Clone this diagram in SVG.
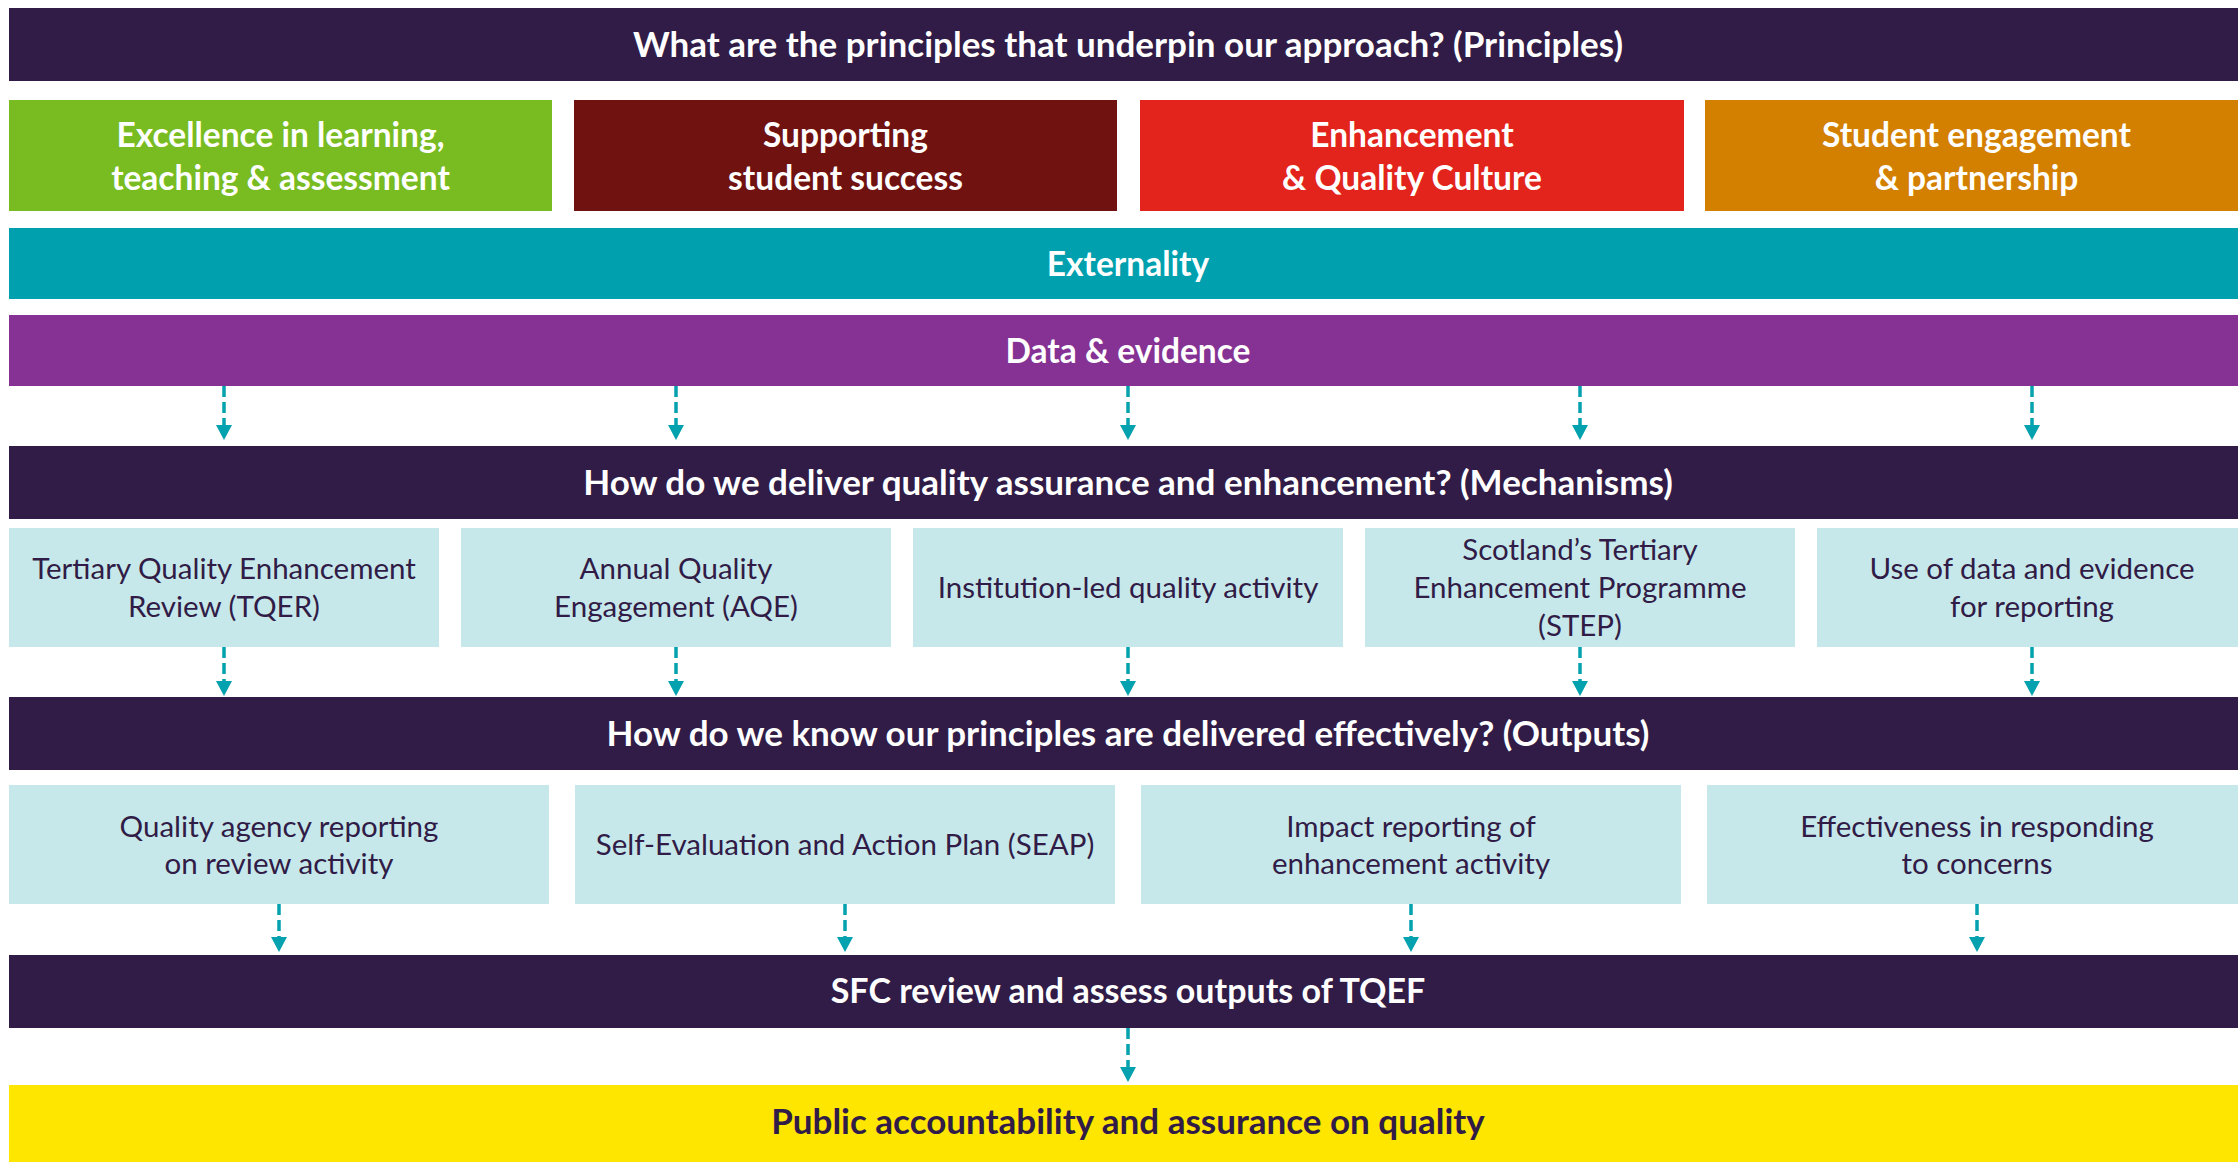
<svg xmlns="http://www.w3.org/2000/svg" width="2238" height="1162" viewBox="0 0 2238 1162">
<style>
.bar{fill:#301C46}
.lb{fill:#C7E8EB}
.hd{font-family:Lato,"Open Sans",sans-serif;font-weight:700;font-size:35px;fill:#FFFFFF;text-anchor:middle}
.pt{font-family:Lato,"Open Sans",sans-serif;font-weight:700;font-size:33.5px;fill:#FFFFFF;text-anchor:middle}
.bt{font-family:Lato,"Open Sans",sans-serif;font-weight:400;font-size:29.5px;fill:#301C46;text-anchor:middle}
.yt{font-family:Lato,"Open Sans",sans-serif;font-weight:700;font-size:35px;fill:#301C46;text-anchor:middle}
.arr{stroke:#04A1AF;stroke-width:3.5;stroke-dasharray:11 5;fill:none;marker-end:url(#ah)}
</style>
<defs>
<marker id="ah" viewBox="0 0 15 16" refX="0" refY="8" markerWidth="15" markerHeight="16" markerUnits="userSpaceOnUse" orient="auto">
<path d="M0,0 L15,8 L0,16 z" fill="#04A1AF"/>
</marker>
</defs>
<rect width="2238" height="1162" fill="#FFFFFF"/>

<g id="principles-header"><rect class="bar" x="9" y="8" width="2240" height="73"/><text class="hd" x="1128" y="57">What are the principles that underpin our approach? (Principles)</text></g>

<g id="p-excellence"><rect x="9" y="100" width="543" height="111" fill="#78BC21"/><text class="pt" x="280.5" y="147">Excellence in learning,</text><text class="pt" x="280.5" y="190">teaching &amp; assessment</text></g>
<g id="p-supporting"><rect x="574" y="100" width="543" height="111" fill="#701210"/><text class="pt" x="845.5" y="147">Supporting</text><text class="pt" x="845.5" y="190">student success</text></g>
<g id="p-enhancement"><rect x="1140" y="100" width="544" height="111" fill="#E2241C"/><text class="pt" x="1412" y="147">Enhancement</text><text class="pt" x="1412" y="190">&amp; Quality Culture</text></g>
<g id="p-student"><rect x="1705" y="100" width="543" height="111" fill="#D38000"/><text class="pt" x="1976.5" y="147">Student engagement</text><text class="pt" x="1976.5" y="190">&amp; partnership</text></g>

<g id="externality"><rect x="9" y="228" width="2240" height="71" fill="#00A0AF"/><text class="pt" x="1128" y="276">Externality</text></g>
<g id="data-evidence"><rect x="9" y="315" width="2240" height="71" fill="#853294"/><text class="pt" x="1128" y="363">Data &amp; evidence</text></g>

<g id="mechanisms-header"><rect class="bar" x="9" y="446" width="2240" height="73"/><text class="hd" x="1128" y="495">How do we deliver quality assurance and enhancement? (Mechanisms)</text></g>

<g id="m-tqer"><rect class="lb" x="9" y="528" width="430" height="119"/><text class="bt" x="224" y="579">Tertiary Quality Enhancement</text><text class="bt" x="224" y="617">Review (TQER)</text></g>
<g id="m-aqe"><rect class="lb" x="461" y="528" width="430" height="119"/><text class="bt" x="676" y="579">Annual Quality</text><text class="bt" x="676" y="617">Engagement (AQE)</text></g>
<g id="m-institution"><rect class="lb" x="913" y="528" width="430" height="119"/><text class="bt" x="1128" y="598">Institution-led quality activity</text></g>
<g id="m-step"><rect class="lb" x="1365" y="528" width="430" height="119"/><text class="bt" x="1580" y="560">Scotland’s Tertiary</text><text class="bt" x="1580" y="598">Enhancement Programme</text><text class="bt" x="1580" y="636">(STEP)</text></g>
<g id="m-data"><rect class="lb" x="1817" y="528" width="430" height="119"/><text class="bt" x="2032" y="579">Use of data and evidence</text><text class="bt" x="2032" y="617">for reporting</text></g>

<g id="outputs-header"><rect class="bar" x="9" y="697" width="2240" height="73"/><text class="hd" x="1128" y="746">How do we know our principles are delivered effectively? (Outputs)</text></g>

<g id="o-quality"><rect class="lb" x="9" y="785" width="540" height="119"/><text class="bt" x="279" y="837">Quality agency reporting</text><text class="bt" x="279" y="874">on review activity</text></g>
<g id="o-seap"><rect class="lb" x="575" y="785" width="540" height="119"/><text class="bt" x="845" y="855">Self-Evaluation and Action Plan (SEAP)</text></g>
<g id="o-impact"><rect class="lb" x="1141" y="785" width="540" height="119"/><text class="bt" x="1411" y="837">Impact reporting of</text><text class="bt" x="1411" y="874">enhancement activity</text></g>
<g id="o-concerns"><rect class="lb" x="1707" y="785" width="540" height="119"/><text class="bt" x="1977" y="837">Effectiveness in responding</text><text class="bt" x="1977" y="874">to concerns</text></g>

<g id="sfc-review"><rect class="bar" x="9" y="955" width="2240" height="73"/><text class="hd" x="1128" y="1003" style="font-size:34px">SFC review and assess outputs of TQEF</text></g>
<g id="public"><rect x="9" y="1085" width="2240" height="80" fill="#FFE600"/><text class="yt" x="1128" y="1134">Public accountability and assurance on quality</text></g>

<g id="connectors">
<line class="arr" x1="224" y1="386" x2="224" y2="425"/>
<line class="arr" x1="676" y1="386" x2="676" y2="425"/>
<line class="arr" x1="1128" y1="386" x2="1128" y2="425"/>
<line class="arr" x1="1580" y1="386" x2="1580" y2="425"/>
<line class="arr" x1="2032" y1="386" x2="2032" y2="425"/>
<line class="arr" x1="224" y1="647" x2="224" y2="681"/>
<line class="arr" x1="676" y1="647" x2="676" y2="681"/>
<line class="arr" x1="1128" y1="647" x2="1128" y2="681"/>
<line class="arr" x1="1580" y1="647" x2="1580" y2="681"/>
<line class="arr" x1="2032" y1="647" x2="2032" y2="681"/>
<line class="arr" x1="279" y1="904" x2="279" y2="937"/>
<line class="arr" x1="845" y1="904" x2="845" y2="937"/>
<line class="arr" x1="1411" y1="904" x2="1411" y2="937"/>
<line class="arr" x1="1977" y1="904" x2="1977" y2="937"/>
<line class="arr" x1="1128" y1="1028" x2="1128" y2="1067"/>
</g>
</svg>
